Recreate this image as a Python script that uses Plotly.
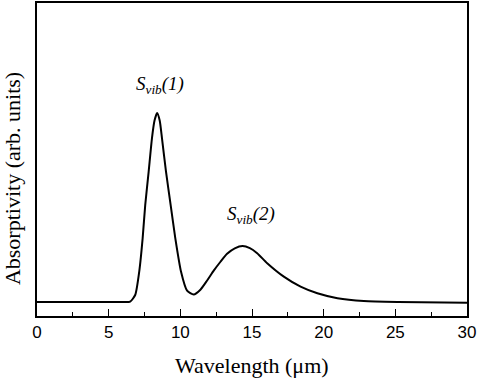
import plotly.graph_objects as go

wavelength = [0, 3, 6.0, 6.5, 6.85, 7.13, 7.37, 7.55, 7.79, 8.02, 8.2, 8.38, 8.56, 8.72,
              9.0, 9.33, 9.65, 10.05, 10.47, 10.93, 11.4, 11.87, 12.33, 12.8, 13.26, 13.8,
              14.34, 14.85, 15.36, 16.06, 17.22, 18.39, 19.56, 20.96, 22.8, 25.2, 30]
absorptivity = [0, 0, 0, 0.002, 0.037, 0.16, 0.337, 0.513, 0.69, 0.866, 0.96, 1.0, 0.96, 0.866,
                0.69, 0.51, 0.337, 0.16, 0.06, 0.04, 0.065, 0.114, 0.166, 0.213, 0.255, 0.284,
                0.296, 0.285, 0.258, 0.205, 0.134, 0.081, 0.046, 0.02, 0.005, 0.0, -0.004]
x_ticks = [0, 5, 10, 15, 20, 25, 30]
peak_labels = ["<i>S<sub>vib</sub>(1)</i>", "<i>S<sub>vib</sub>(2)</i>"]
peak_label_x = [8.6, 14.9]
peak_label_y = [1.148, 0.46]

serif = "Liberation Serif, Times New Roman, serif"
sans = "Liberation Sans, Arial, sans-serif"

fig = go.Figure()
fig.add_trace(go.Scatter(x=wavelength, y=absorptivity, mode="lines",
                         line=dict(color="black", width=2, shape="spline", smoothing=0.6),
                         showlegend=False, hoverinfo="skip"))

for t, x, y in zip(peak_labels, peak_label_x, peak_label_y):
    fig.add_annotation(x=x, y=y, text=t, showarrow=False,
                       font=dict(family=serif, size=19, color="black"))

fig.add_annotation(text="Absorptivity (arb. units)", xref="paper", yref="paper",
                   x=-0.057, y=0.439, xanchor="center", yanchor="middle",
                   textangle=-90, showarrow=False,
                   font=dict(family=serif, size=22, color="black"))
fig.add_annotation(text="Wavelength (μm)", xref="paper", yref="paper",
                   x=0.5, y=-0.159, xanchor="center", yanchor="middle", showarrow=False,
                   font=dict(family=serif, size=22, color="black"))

fig.update_layout(
    width=479, height=380,
    margin=dict(l=37, r=12, t=3, b=64),
    paper_bgcolor="white", plot_bgcolor="white",
    xaxis=dict(range=[0, 30], tickvals=x_ticks, ticks="inside", ticklen=7, tickwidth=1.3,
               tickcolor="black", showline=True, linecolor="black", linewidth=1.5,
               mirror=True, showgrid=False, zeroline=False, automargin=False,
               tickfont=dict(family=sans, size=17, color="black"),
               minor=dict(ticks="inside", ticklen=4, dtick=2.5, tick0=0, tickcolor="black",
                          tickwidth=1.3, showgrid=False)),
    yaxis=dict(range=[-0.074, 1.582], showticklabels=False, ticks="",
               showline=True, linecolor="black", linewidth=1.5, mirror=True,
               showgrid=False, zeroline=False, automargin=False),
)

fig.write_html("out.html", config={"displayModeBar": False},
               post_script="document.body.style.margin='0';document.body.style.padding='0';")
